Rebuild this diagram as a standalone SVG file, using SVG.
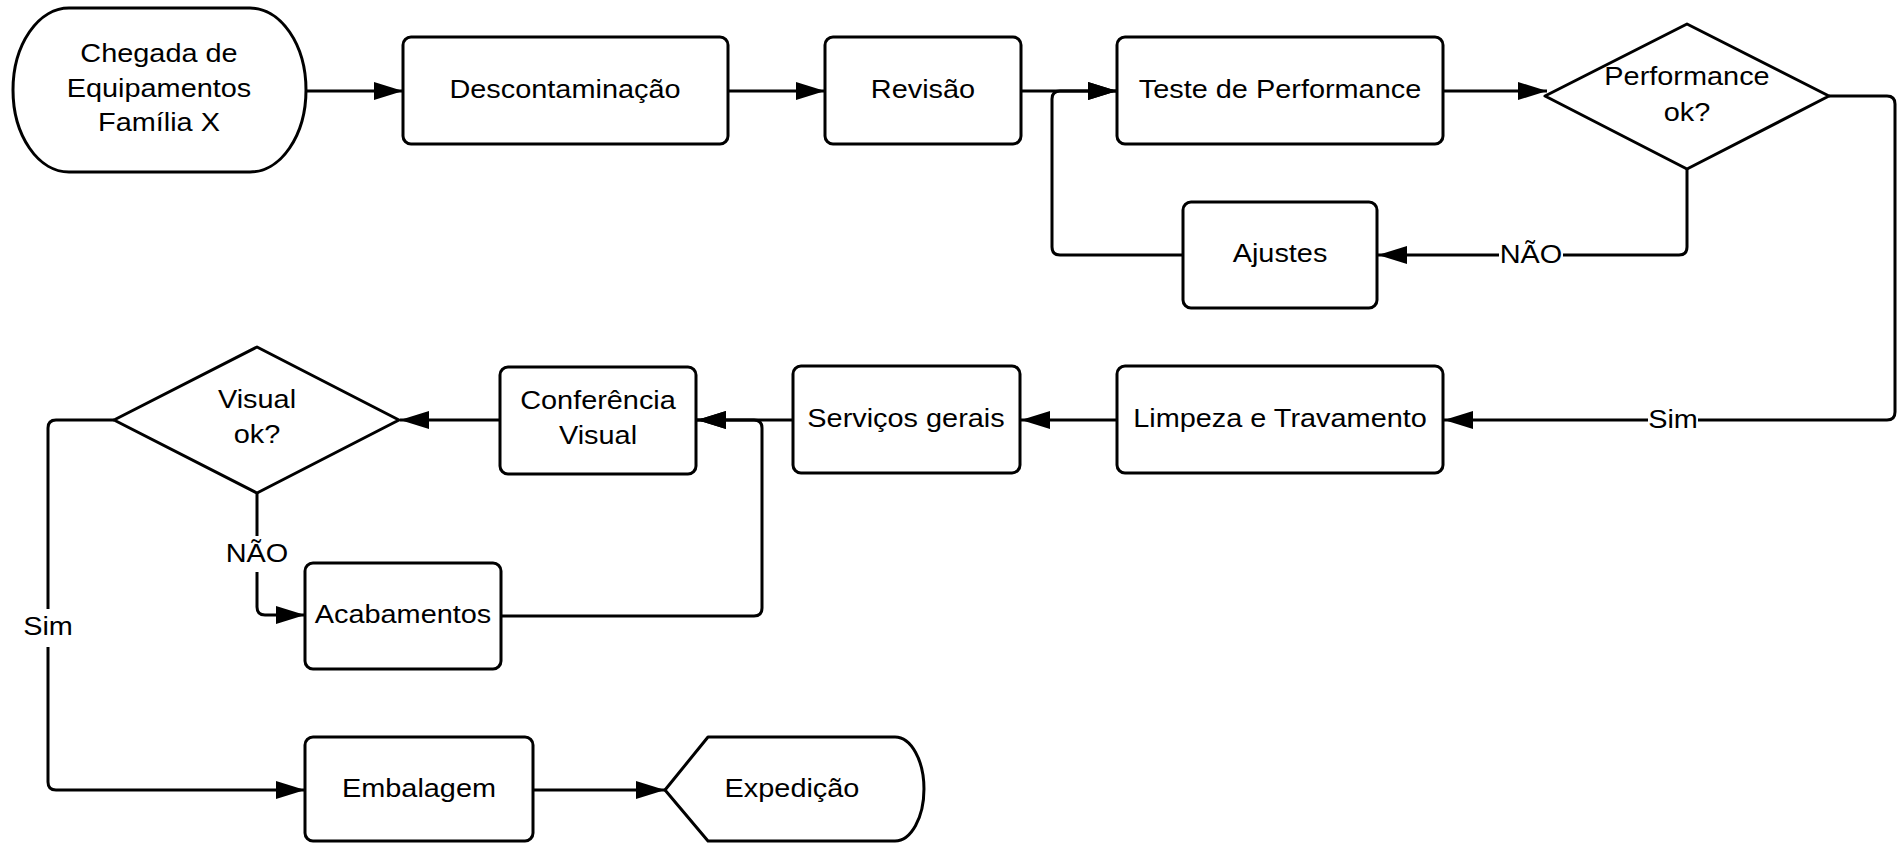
<svg xmlns="http://www.w3.org/2000/svg" width="1899" height="843" viewBox="0 0 1899 843">
  <style>
    .shape { fill: #ffffff; stroke: #000000; stroke-width: 3; stroke-linejoin: round; }
    .edge { fill: none; stroke: #000000; stroke-width: 3; stroke-linejoin: round; }
    .lbl { font-family: "Liberation Sans", Arial, sans-serif; font-size: 26.5px; fill: #000000; text-anchor: middle; }
    .lblbg { fill: #ffffff; stroke: none; }
  </style>
  <defs>
    <marker id="arrow" markerUnits="userSpaceOnUse" markerWidth="30" markerHeight="20" refX="29" refY="9" orient="auto">
      <path d="M0,0 L29,9 L0,18 Z" fill="#000000"/>
    </marker>
  </defs>
  <rect width="1899" height="843" fill="#ffffff"/>

  <!-- connectors -->
  <g id="connectors">
    <path class="edge" d="M306,91 H403" marker-end="url(#arrow)"/>
    <path class="edge" d="M728,91 H825" marker-end="url(#arrow)"/>
    <path class="edge" d="M1021,91 H1117" marker-end="url(#arrow)"/>
    <path class="edge" d="M1183,255 H1060 Q1052,255 1052,247 V99 Q1052,91 1060,91 H1117" marker-end="url(#arrow)"/>
    <path class="edge" d="M1443,91 H1547" marker-end="url(#arrow)"/>
    <path class="edge" d="M1687,169 V247 Q1687,255 1679,255 H1378" marker-end="url(#arrow)"/>
    <path class="edge" d="M1829,96 H1887 Q1895,96 1895,104 V412 Q1895,420 1887,420 H1444" marker-end="url(#arrow)"/>
    <path class="edge" d="M1117,420 H1021" marker-end="url(#arrow)"/>
    <path class="edge" d="M793,420 H697" marker-end="url(#arrow)"/>
    <path class="edge" d="M501,616 H754 Q762,616 762,608 V428 Q762,420 754,420 H697" marker-end="url(#arrow)"/>
    <path class="edge" d="M500,420 H400" marker-end="url(#arrow)"/>
    <path class="edge" d="M257,493 V607 Q257,615 265,615 H305" marker-end="url(#arrow)"/>
    <path class="edge" d="M114,420 H56 Q48,420 48,428 V782 Q48,790 56,790 H305" marker-end="url(#arrow)"/>
    <path class="edge" d="M533,790 H665" marker-end="url(#arrow)"/>

    <!-- edge labels -->
    <rect class="lblbg" x="1499" y="238" width="64" height="32"/>
    <text class="lbl" transform="translate(1531 263) scale(1.09 1)">NÃO</text>
    <rect class="lblbg" x="1648" y="404" width="50" height="32"/>
    <text class="lbl" transform="translate(1673 428) scale(1.09 1)">Sim</text>
    <rect class="lblbg" x="226" y="536" width="62" height="36"/>
    <text class="lbl" transform="translate(257 562) scale(1.09 1)">NÃO</text>
    <rect class="lblbg" x="24" y="609" width="50" height="38"/>
    <text class="lbl" transform="translate(48 635) scale(1.09 1)">Sim</text>
  </g>

  <!-- nodes -->
  <g id="chegada">
    <rect class="shape" x="13" y="8" width="293" height="164" rx="56" ry="82"/>
    <text class="lbl" transform="translate(159 62) scale(1.09 1)">Chegada de</text>
    <text class="lbl" transform="translate(159 97) scale(1.09 1)">Equipamentos</text>
    <text class="lbl" transform="translate(159 131) scale(1.09 1)">Família X</text>
  </g>
  <g id="descontaminacao">
    <rect class="shape" x="403" y="37" width="325" height="107" rx="8"/>
    <text class="lbl" transform="translate(565 98) scale(1.09 1)">Descontaminação</text>
  </g>
  <g id="revisao">
    <rect class="shape" x="825" y="37" width="196" height="107" rx="8"/>
    <text class="lbl" transform="translate(923 98) scale(1.09 1)">Revisão</text>
  </g>
  <g id="teste-performance">
    <rect class="shape" x="1117" y="37" width="326" height="107" rx="8"/>
    <text class="lbl" transform="translate(1280 98) scale(1.09 1)">Teste de Performance</text>
  </g>
  <g id="performance-ok">
    <polygon class="shape" points="1687,24 1829,96 1687,169 1545,96"/>
    <text class="lbl" transform="translate(1687 85) scale(1.09 1)">Performance</text>
    <text class="lbl" transform="translate(1687 121) scale(1.09 1)">ok?</text>
  </g>
  <g id="ajustes">
    <rect class="shape" x="1183" y="202" width="194" height="106" rx="8"/>
    <text class="lbl" transform="translate(1280 262) scale(1.09 1)">Ajustes</text>
  </g>
  <g id="limpeza-travamento">
    <rect class="shape" x="1117" y="366" width="326" height="107" rx="8"/>
    <text class="lbl" transform="translate(1280 427) scale(1.09 1)">Limpeza e Travamento</text>
  </g>
  <g id="servicos-gerais">
    <rect class="shape" x="793" y="366" width="227" height="107" rx="8"/>
    <text class="lbl" transform="translate(906 427) scale(1.09 1)">Serviços gerais</text>
  </g>
  <g id="conferencia-visual">
    <rect class="shape" x="500" y="367" width="196" height="107" rx="8"/>
    <text class="lbl" transform="translate(598 409) scale(1.09 1)">Conferência</text>
    <text class="lbl" transform="translate(598 444) scale(1.09 1)">Visual</text>
  </g>
  <g id="visual-ok">
    <polygon class="shape" points="257,347 399,420 257,493 114,420"/>
    <text class="lbl" transform="translate(257 408) scale(1.09 1)">Visual</text>
    <text class="lbl" transform="translate(257 443) scale(1.09 1)">ok?</text>
  </g>
  <g id="acabamentos">
    <rect class="shape" x="305" y="563" width="196" height="106" rx="8"/>
    <text class="lbl" transform="translate(403 623) scale(1.09 1)">Acabamentos</text>
  </g>
  <g id="embalagem">
    <rect class="shape" x="305" y="737" width="228" height="104" rx="8"/>
    <text class="lbl" transform="translate(419 797) scale(1.09 1)">Embalagem</text>
  </g>
  <g id="expedicao">
    <path class="shape" d="M665,790 L708,737 H895 A29,52 0 0 1 895,841 H708 Z"/>
    <text class="lbl" transform="translate(792 797) scale(1.09 1)">Expedição</text>
  </g>
</svg>
